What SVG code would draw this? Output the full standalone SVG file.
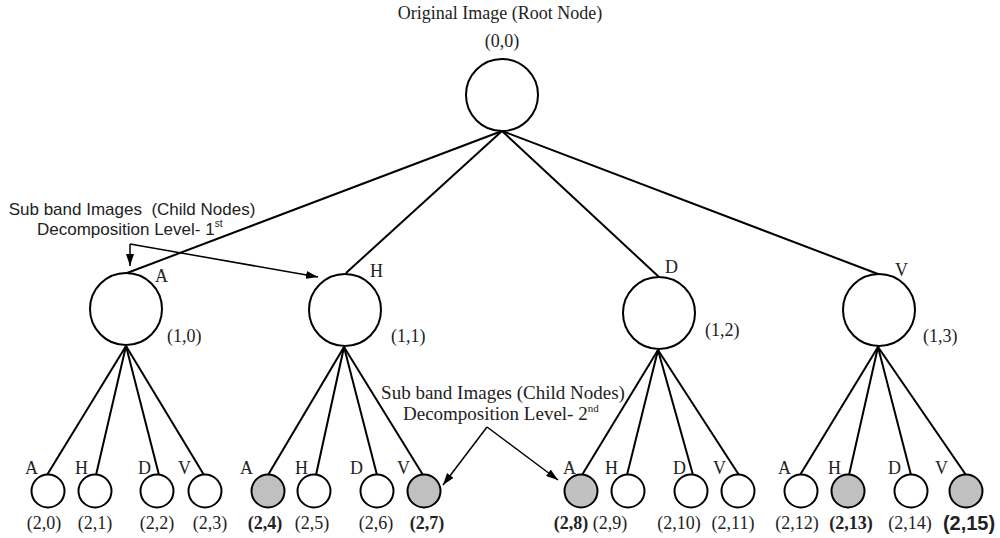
<svg xmlns="http://www.w3.org/2000/svg" width="1000" height="538" viewBox="0 0 1000 538">
  <style>
    .node { fill: #ffffff; stroke: #000000; stroke-width: 2; }
    .node.sel { fill: #c0c0c0; }
    .edge { stroke: #000000; stroke-width: 2; fill: none; }
    .ptr { stroke: #000000; stroke-width: 1.5; fill: none; }
    .serif { font-family: "Liberation Serif", "Times New Roman", serif; fill: #222222; }
    .sans { font-family: "Liberation Sans", Arial, sans-serif; fill: #222222; }
    .lbl { font-size: 18px; }
    .crd { font-size: 18px; }
    .bcrd { font-size: 18px; font-weight: bold; }
  </style>
  <defs>
    <marker id="head" viewBox="0 0 12 8" refX="12" refY="4" markerWidth="12" markerHeight="8" markerUnits="userSpaceOnUse" orient="auto">
      <path d="M0,0 L12,4 L0,8 Z" fill="#000000"/>
    </marker>
  </defs>

  <rect width="1000" height="538" fill="#ffffff"/>

  <!-- connectors -->
  <g id="connectors">
    <!-- root to level 1 -->
    <line class="edge" x1="502" y1="131" x2="127" y2="273"/>
    <line class="edge" x1="502" y1="131" x2="346" y2="273"/>
    <line class="edge" x1="502" y1="131" x2="659" y2="277"/>
    <line class="edge" x1="502" y1="131" x2="878" y2="274"/>
    <!-- A (1,0) to children -->
    <line class="edge" x1="126" y1="346" x2="47" y2="475"/>
    <line class="edge" x1="126" y1="346" x2="96" y2="475"/>
    <line class="edge" x1="126" y1="346" x2="159" y2="475"/>
    <line class="edge" x1="126" y1="346" x2="204" y2="475"/>
    <!-- H (1,1) to children -->
    <line class="edge" x1="344" y1="347" x2="268" y2="475"/>
    <line class="edge" x1="344" y1="347" x2="316" y2="475"/>
    <line class="edge" x1="344" y1="347" x2="377" y2="475"/>
    <line class="edge" x1="344" y1="347" x2="423" y2="475"/>
    <!-- D (1,2) to children -->
    <line class="edge" x1="658" y1="350" x2="582" y2="475"/>
    <line class="edge" x1="658" y1="350" x2="627" y2="475"/>
    <line class="edge" x1="658" y1="350" x2="693" y2="475"/>
    <line class="edge" x1="658" y1="350" x2="739" y2="475"/>
    <!-- V (1,3) to children -->
    <line class="edge" x1="878" y1="347" x2="800" y2="475"/>
    <line class="edge" x1="878" y1="347" x2="849" y2="475"/>
    <line class="edge" x1="878" y1="347" x2="911" y2="475"/>
    <line class="edge" x1="878" y1="347" x2="966" y2="475"/>
    <!-- annotation pointers -->
    <line class="ptr" x1="130" y1="244" x2="130" y2="266" marker-end="url(#head)"/>
    <line class="ptr" x1="130" y1="244" x2="318" y2="277" marker-end="url(#head)"/>
    <line class="ptr" x1="487" y1="427" x2="443" y2="485" marker-end="url(#head)"/>
    <line class="ptr" x1="487" y1="427" x2="558" y2="480" marker-end="url(#head)"/>
  </g>

  <!-- root -->
  <g id="root">
    <text class="serif" font-size="18" x="500" y="19" text-anchor="middle">Original Image (Root Node)</text>
    <text class="serif crd" x="502" y="47" text-anchor="middle">(0,0)</text>
    <circle class="node" cx="502" cy="95" r="36"/>
  </g>

  <!-- level 1 -->
  <g id="n1-0">
    <circle class="node" cx="126" cy="309" r="36"/>
    <text class="serif lbl" x="155" y="282">A</text>
    <text class="serif crd" x="167" y="342">(1,0)</text>
  </g>
  <g id="n1-1">
    <circle class="node" cx="345" cy="310" r="36"/>
    <text class="serif lbl" x="370" y="277">H</text>
    <text class="serif crd" x="391" y="342">(1,1)</text>
  </g>
  <g id="n1-2">
    <circle class="node" cx="659" cy="313" r="36"/>
    <text class="serif lbl" x="665" y="273">D</text>
    <text class="serif crd" x="705" y="336">(1,2)</text>
  </g>
  <g id="n1-3">
    <circle class="node" cx="879" cy="310" r="36"/>
    <text class="serif lbl" x="895" y="276">V</text>
    <text class="serif crd" x="923" y="342">(1,3)</text>
  </g>

  <!-- level 2 -->
  <g id="n2-0"><circle class="node" cx="48" cy="491" r="16.5"/><text class="serif lbl" x="25" y="474">A</text><text class="serif crd" x="44" y="529" text-anchor="middle">(2,0)</text></g>
  <g id="n2-1"><circle class="node" cx="95" cy="491" r="16.5"/><text class="serif lbl" x="75" y="474">H</text><text class="serif crd" x="95" y="529" text-anchor="middle">(2,1)</text></g>
  <g id="n2-2"><circle class="node" cx="157" cy="491" r="16.5"/><text class="serif lbl" x="138" y="474">D</text><text class="serif crd" x="157" y="529" text-anchor="middle">(2,2)</text></g>
  <g id="n2-3"><circle class="node" cx="205" cy="491" r="16.5"/><text class="serif lbl" x="178" y="474">V</text><text class="serif crd" x="210" y="529" text-anchor="middle">(2,3)</text></g>

  <g id="n2-4"><circle class="node sel" cx="268" cy="491" r="16.5"/><text class="serif lbl" x="240" y="474">A</text><text class="serif bcrd" x="265" y="529" text-anchor="middle">(2,4)</text></g>
  <g id="n2-5"><circle class="node" cx="314" cy="491" r="16.5"/><text class="serif lbl" x="295" y="474">H</text><text class="serif crd" x="312" y="529" text-anchor="middle">(2,5)</text></g>
  <g id="n2-6"><circle class="node" cx="377" cy="491" r="16.5"/><text class="serif lbl" x="350" y="474">D</text><text class="serif crd" x="376" y="529" text-anchor="middle">(2,6)</text></g>
  <g id="n2-7"><circle class="node sel" cx="424" cy="491" r="16.5"/><text class="serif lbl" x="397" y="474">V</text><text class="serif bcrd" x="427" y="529" text-anchor="middle">(2,7)</text></g>

  <g id="n2-8"><circle class="node sel" cx="581" cy="491" r="16.5"/><text class="serif lbl" x="563" y="474">A</text><text class="serif bcrd" x="571" y="529" text-anchor="middle">(2,8)</text></g>
  <g id="n2-9"><circle class="node" cx="628" cy="491" r="16.5"/><text class="serif lbl" x="605" y="474">H</text><text class="serif crd" x="610" y="529" text-anchor="middle">(2,9)</text></g>
  <g id="n2-10"><circle class="node" cx="691" cy="491" r="16.5"/><text class="serif lbl" x="673" y="474">D</text><text class="serif crd" x="679" y="529" text-anchor="middle">(2,10)</text></g>
  <g id="n2-11"><circle class="node" cx="738" cy="491" r="16.5"/><text class="serif lbl" x="713" y="474">V</text><text class="serif crd" x="733" y="529" text-anchor="middle">(2,11)</text></g>

  <g id="n2-12"><circle class="node" cx="801" cy="491" r="16.5"/><text class="serif lbl" x="778" y="474">A</text><text class="serif crd" x="797" y="529" text-anchor="middle">(2,12)</text></g>
  <g id="n2-13"><circle class="node sel" cx="848" cy="491" r="16.5"/><text class="serif lbl" x="828" y="474">H</text><text class="serif bcrd" x="851" y="529" text-anchor="middle">(2,13)</text></g>
  <g id="n2-14"><circle class="node" cx="911" cy="491" r="16.5"/><text class="serif lbl" x="888" y="474">D</text><text class="serif crd" x="910" y="529" text-anchor="middle">(2,14)</text></g>
  <g id="n2-15"><circle class="node sel" cx="966" cy="491" r="16.5"/><text class="serif lbl" x="935" y="474">V</text><text class="sans" font-size="20" font-weight="bold" x="969" y="530" text-anchor="middle">(2,15)</text></g>

  <!-- annotations -->
  <g id="note-level1">
    <text class="sans" font-size="17" x="132" y="215" text-anchor="middle" xml:space="preserve">Sub band Images  (Child Nodes)</text>
    <text class="sans" font-size="17" x="37" y="235">Decomposition Level- 1<tspan font-size="10" dy="-8">st</tspan></text>
  </g>
  <g id="note-level2">
    <text class="serif" font-size="19" x="503" y="399" text-anchor="middle">Sub band Images (Child Nodes)</text>
    <text class="serif" font-size="19" x="403" y="420">Decomposition Level- 2<tspan font-size="11" dy="-8">nd</tspan></text>
  </g>
</svg>
